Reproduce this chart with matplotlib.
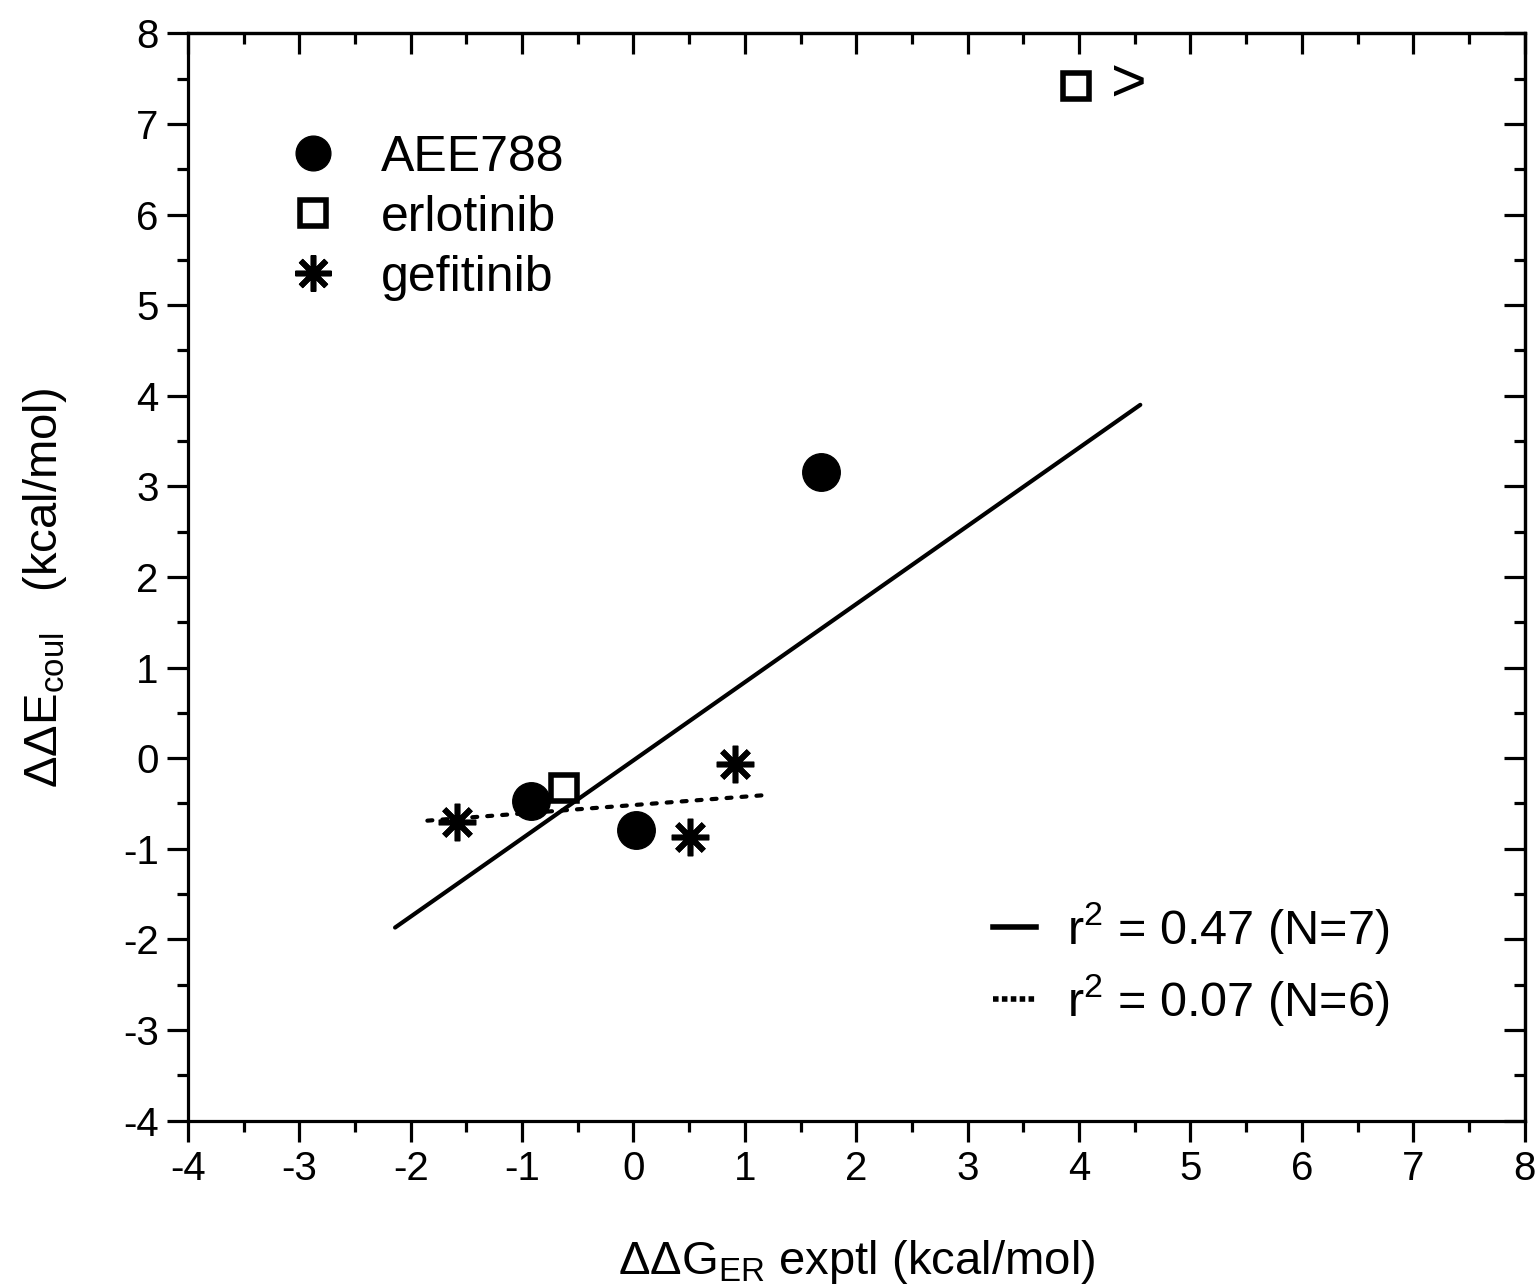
import matplotlib
matplotlib.use("Agg")
import matplotlib.pyplot as plt
from matplotlib.lines import Line2D
from matplotlib.ticker import MultipleLocator

plt.rcParams['font.family'] = ['Liberation Sans', 'DejaVu Sans']
plt.rcParams['mathtext.fontset'] = 'custom'
plt.rcParams['mathtext.rm'] = 'Liberation Sans'
plt.rcParams['mathtext.it'] = 'Liberation Sans'
plt.rcParams['axes.unicode_minus'] = False

# datos
aee_x = [1.68, -0.92, 0.02]
aee_y = [3.16, -0.47, -0.79]
erl_x = [-0.62, 3.97]
erl_y = [-0.33, 7.42]
gef_x = [-1.58, 0.51, 0.91]
gef_y = [-0.71, -0.87, -0.06]

# rectas de ajuste (extremos)
fit_all_x = [-2.14, 4.55]
fit_all_y = [-1.87, 3.90]
fit_gef_x = [-1.85, 1.16]
fit_gef_y = [-0.69, -0.41]

fig = plt.figure(figsize=(15.4, 12.85), dpi=100)
ax = fig.add_axes([0.122, 0.128, 0.868, 0.846])

ax.plot(fit_all_x, fit_all_y, color='black', lw=3.0, solid_capstyle='round')
ax.plot(fit_gef_x, fit_gef_y, color='black', lw=3.0, linestyle=(0, (1.2, 2.4)),
        dash_capstyle='round')

star = (8, 2, 0)  # asterisco de 8 brazos
ax.plot(aee_x, aee_y, 'o', color='black', ms=27, ls='none')
ax.plot(erl_x, erl_y, 's', mfc='white', mec='black', mew=4.0, ms=19, ls='none')
ax.plot(gef_x, gef_y, marker=star, color='black', mew=4.0, ms=27, ls='none')

ax.text(4.29, 7.42, '>', fontsize=44, va='center', ha='left')

ax.set_xlim(-4, 8)
ax.set_ylim(-4, 8)
ax.xaxis.set_major_locator(MultipleLocator(1))
ax.xaxis.set_minor_locator(MultipleLocator(0.5))
ax.yaxis.set_major_locator(MultipleLocator(1))
ax.yaxis.set_minor_locator(MultipleLocator(0.5))

for s in ax.spines.values():
    s.set_linewidth(2.3)

ax.tick_params(which='both', direction='out', width=2.3, labelsize=29,
               top=False, right=False)
ax.tick_params(which='major', length=15, pad=6)
ax.tick_params(which='minor', length=8)

# ticks interiores arriba y a la derecha
sec_x = ax.secondary_xaxis('top')
sec_x.xaxis.set_major_locator(MultipleLocator(1))
sec_x.xaxis.set_minor_locator(MultipleLocator(0.5))
sec_x.tick_params(which='both', direction='in', width=2.3, labeltop=False)
sec_x.tick_params(which='major', length=15)
sec_x.tick_params(which='minor', length=8)
sec_x.spines['top'].set_linewidth(2.3)
sec_y = ax.secondary_yaxis('right')
sec_y.yaxis.set_major_locator(MultipleLocator(1))
sec_y.yaxis.set_minor_locator(MultipleLocator(0.5))
sec_y.tick_params(which='both', direction='in', width=2.3, labelright=False)
sec_y.tick_params(which='major', length=15)
sec_y.tick_params(which='minor', length=8)
sec_y.spines['right'].set_linewidth(2.3)

ax.set_xlabel(r'$\Delta\Delta\mathregular{G_{ER}}$ exptl (kcal/mol)', fontsize=34, labelpad=36)
ax.set_ylabel(r'$\Delta\Delta\mathregular{E_{coul}}$   (kcal/mol)', fontsize=34)
ax.yaxis.set_label_coords(-0.089, 0.49)

h1 = [
    Line2D([], [], marker='o', color='black', ms=25, ls='none'),
    Line2D([], [], marker='s', mfc='white', mec='black', mew=4.0, ms=19, ls='none'),
    Line2D([], [], marker=star, color='black', mew=4.0, ms=26, ls='none'),
]
leg1 = ax.legend(h1, ['AEE788', 'erlotinib', 'gefitinib'], loc='upper left',
                 bbox_to_anchor=(0.041, 0.925), frameon=False, fontsize=36,
                 handletextpad=0.36, labelspacing=0.28, borderaxespad=0)
ax.add_artist(leg1)

h2 = [
    Line2D([], [], color='black', lw=4.0),
    Line2D([], [], color='black', lw=4.0, linestyle=(0, (1.0, 0.6))),
]
ax.legend(h2, ['r$^2$ = 0.47 (N=7)', 'r$^2$ = 0.07 (N=6)'], loc='lower left',
          bbox_to_anchor=(0.5875, 0.067), frameon=False, fontsize=35,
          handlelength=0.9, handletextpad=0.63, labelspacing=0.34, borderaxespad=0)

fig.savefig('out.png', dpi=100)
